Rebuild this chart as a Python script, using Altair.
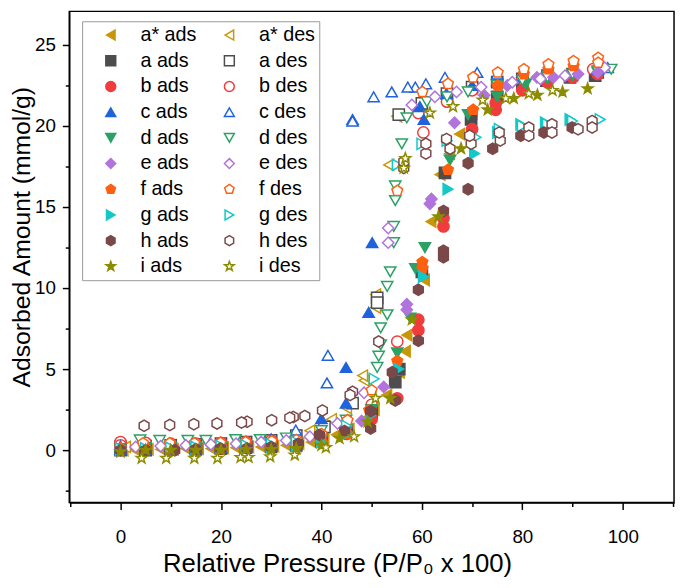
import altair as alt
import pandas as pd

samples = ["a*", "a", "b", "c", "d", "e", "f", "g", "h", "i"]
colors = ["#C8960A", "#4D4D4D", "#F03C3C", "#1F63DC", "#2BA166",
          "#B074DC", "#FF6010", "#14C8C8", "#7A4848", "#8C8C00"]
PENT = "M0,-1L0.951,-0.309L0.588,0.809L-0.588,0.809L-0.951,-0.309Z"
HEX = "M0,-1L0.866,-0.5L0.866,0.5L0,1L-0.866,0.5L-0.866,-0.5Z"
STAR = ("M0,-1L0.235,-0.324L0.951,-0.309L0.38,0.124L0.588,0.809L0,0.4"
        "L-0.588,0.809L-0.38,0.124L-0.951,-0.309L-0.235,-0.324Z")
shapes = ["triangle-left", "square", "circle", "triangle-up", "triangle-down",
          "diamond", PENT, "triangle-right", HEX, STAR]

astar_ads_x = [0.5, 3, 5.5, 8, 10.5, 13, 15.5, 18, 20.5, 23, 25.5, 28, 30.5, 33, 35.5, 38, 40.5, 43, 45.5, 48,
               50.5, 53, 55.5, 56.7, 57, 60.5, 61.8, 63.6, 65.5, 67.5, 70, 75, 80, 85, 90, 95]
astar_ads_y = [0.0, 0.0, 0.05, 0.05, 0.05, 0.1, 0.1, 0.1, 0.15, 0.15, 0.2, 0.2, 0.25, 0.3, 0.4, 0.5, 0.7, 0.95, 1.3, 1.8,
               2.5, 3.4, 4.8, 6.1, 7.1, 10.5, 14.1, 17.0, 18.3, 19.5, 20.8, 21.8, 22.4, 22.8, 23.1, 23.3]
astar_des_x = [95, 90, 85, 80, 75, 70, 65, 60, 55, 53.4, 50.8, 50.8, 48.5, 48.2, 45, 42, 37.7, 35, 30, 25, 20, 15, 10, 5, 1]
astar_des_y = [23.4, 23.2, 23.0, 22.8, 22.6, 22.3, 21.9, 21.3, 20.6, 17.6, 9.6, 8.8, 4.3, 4.6, 2.6, 1.9, 1.2, 0.9, 0.6,
               0.5, 0.4, 0.35, 0.3, 0.25, 0.2]
a_ads_x = [0, 5, 10, 15, 20, 25, 30, 35, 40, 45, 50, 54.7, 55.5, 60, 64.6, 69.8, 75, 80, 84.8, 89.5, 94.5]
a_ads_y = [0, 0, 0.05, 0.05, 0.1, 0.15, 0.2, 0.3, 0.55, 1.1, 2.3, 4.2, 5.0, 11.0, 17.1, 20.4, 21.8, 22.5, 22.8, 23.0, 23.1]
a_des_x = [95, 90, 85, 80, 75, 70, 65, 60, 55.4, 51.1, 51.1, 46.2, 40.6, 35, 30, 25, 20, 15, 10, 5, 0]
a_des_y = [23.3, 23.2, 23.1, 22.9, 22.7, 22.4, 22.0, 21.4, 20.7, 9.4, 9.1, 2.9, 1.44, 0.9, 0.6, 0.5, 0.4, 0.35, 0.3, 0.25, 0.2]
b_ads_x = [0, 5, 10, 15, 20, 25, 30, 35, 40, 45, 50, 55.1, 59.3, 59.3, 64.3, 64.3, 70, 74.7, 74.7, 80, 85, 90, 95]
b_ads_y = [0.05, 0.05, 0.05, 0.1, 0.1, 0.15, 0.2, 0.3, 0.5, 1.0, 1.9, 3.2, 7.4, 8.05, 13.8, 14.3, 19.8, 21.0, 21.4, 22.2,
           22.7, 23.0, 23.2]
b_des_x = [94.1, 90, 85, 80, 75, 70, 65, 60.3, 59.3, 55.1, 50, 45, 40, 35, 30, 25, 20, 15, 10, 5, 0, 0]
b_des_y = [23.5, 23.3, 23.1, 22.9, 22.6, 22.2, 21.5, 19.6, 20.8, 6.7, 2.8, 1.5, 0.9, 0.7, 0.6, 0.5, 0.45, 0.4, 0.4, 0.45,
           0.5, 0.3]
c_ads_x = [0, 5, 10, 15, 20, 25, 30, 35, 40, 44.9, 44.9, 49.4, 50.1, 59.6, 60.4, 64.9, 70, 75, 80, 85, 90, 95]
c_ads_y = [0.05, 0.05, 0.1, 0.1, 0.15, 0.2, 0.3, 0.6, 1.95, 2.9, 5.1, 8.5, 12.8, 21.2, 20.4, 22.0, 22.5, 22.8, 23.0, 23.2,
           23.3, 23.5]
c_des_x = [97, 95, 90, 85, 80, 75, 71, 64.6, 60.8, 58.7, 57.2, 54, 50.4, 46.2, 46.2, 41.3, 41.1, 34.9, 30, 25, 20, 15,
           10, 5, 0]
c_des_y = [23.6, 23.5, 23.4, 23.3, 23.3, 23.2, 23.3, 23.0, 22.6, 22.4, 22.4, 22.1, 21.8, 20.4, 20.3, 5.85, 4.15, 1.24,
           0.7, 0.55, 0.45, 0.4, 0.35, 0.3, 0.25]
d_ads_x = [0, 5, 10, 15, 20, 25, 30, 35, 40, 45, 50, 55.1, 57.7, 58.7, 60.6, 65.6, 69.2, 75, 80.7, 85, 90, 95]
d_ads_y = [0.1, 0.15, 0.15, 0.2, 0.2, 0.25, 0.3, 0.45, 0.7, 1.3, 2.5, 6.0, 8.15, 11.2, 12.5, 17.9, 20.7, 21.8, 22.6,
           22.9, 23.1, 23.3]
d_des_x = [97.7, 95, 90, 85, 80, 75, 69.2, 65, 61, 57, 56, 54.7, 54.7, 54.4, 54.4, 53.7, 53.1, 53.1, 51.8, 51.8, 51.4,
           51.1, 44.9, 40, 33, 27.8, 22.9, 17, 13.4, 7.8, 3.9]
d_des_y = [23.5, 23.4, 23.2, 23.0, 22.8, 22.5, 22.1, 21.8, 21.5, 20.5, 18.9, 16.3, 15.4, 13.8, 12.8, 11.0, 10.1, 8.35,
           7.55, 6.5, 5.8, 5.1, 1.85, 1.2, 0.75, 0.65, 0.65, 0.6, 0.6, 0.6, 0.63]
e_ads_x = [0, 5, 10, 15, 20, 25, 30, 35, 40, 45, 48, 52.4, 57, 57, 61.6, 61.9, 66.5, 72.4, 77, 82.9, 86.2, 91.1, 95]
e_ads_y = [0.1, 0.1, 0.1, 0.15, 0.15, 0.2, 0.25, 0.35, 0.55, 1.1, 1.8, 3.9, 8.66, 9.0, 15.2, 15.5, 20.2, 21.9, 22.5,
           23.0, 23.0, 23.2, 23.3]
e_des_x = [96.4, 88.5, 83.6, 78, 71.8, 66.9, 62.6, 58, 53.3, 53.3, 48.5, 43.2, 37.7, 33, 28, 23, 18, 13, 8, 3]
e_des_y = [23.6, 23.1, 22.9, 22.7, 22.4, 22.1, 21.8, 21.3, 13.7, 12.8, 3.54, 1.65, 0.83, 0.6, 0.5, 0.4, 0.35, 0.3, 0.25, 0.2]
f_ads_x = [0, 5, 10, 15, 20, 25, 30, 35, 40, 45, 49.5, 55.1, 60.1, 60.1, 65.2, 70.2, 75.1, 80.3, 85.2, 90.2]
f_ads_y = [0.05, 0.1, 0.1, 0.1, 0.15, 0.2, 0.25, 0.3, 0.5, 1.0, 2.46, 5.5, 11.2, 11.6, 17.3, 21.0, 22.5, 23.2, 23.5, 23.7]
f_des_x = [95.1, 95.1, 90.2, 85.2, 80.3, 75.1, 70.2, 65.2, 60.1, 55.1, 50, 45.2, 40, 35, 30.1, 24.9, 19.9, 14.7, 9.8, 4.5, 0]
f_des_y = [24.2, 23.9, 24.0, 23.8, 23.5, 23.3, 23.0, 22.6, 22.1, 16.0, 3.7, 1.85, 1.0, 0.63, 0.55, 0.5, 0.45, 0.43, 0.43,
           0.43, 0.1]
g_ads_x = [0, 5, 10, 15, 20, 25, 30, 35, 40, 45, 49.8, 55.4, 60.3, 65.2, 70.5, 75.1, 79.7, 84.6, 89.5]
g_ads_y = [0.05, 0.05, 0.1, 0.1, 0.1, 0.15, 0.2, 0.3, 0.5, 1.0, 2.15, 5.0, 10.7, 16.1, 18.3, 19.6, 20.1, 20.2, 20.4]
g_des_x = [95.5, 90, 85, 80, 75.4, 70.8, 65, 60, 55.1, 50.5, 45, 40, 35, 30, 25, 20, 15, 10, 5, 0]
g_des_y = [20.4, 20.3, 20.1, 20.0, 19.8, 19.3, 19.1, 18.9, 17.6, 4.4, 1.5, 0.9, 0.5, 0.35, 0.3, 0.25, 0.2, 0.15, 0.1, 0.1]
h_ads_x = [0, 5, 10.8, 15, 19.9, 25.2, 30, 35.4, 39.6, 44.6, 49.8, 49.8, 54.1, 54.7, 59.3, 59.3, 64.3, 64.3, 64.3, 69.2,
           69.2, 74.1, 79.7, 84.3, 89.9]
h_ads_y = [0.0, 0.0, 0.0, 0.05, 0.1, 0.1, 0.2, 0.4, 0.93, 1.18, 1.34, 2.4, 4.8, 3.07, 6.75, 9.9, 11.9, 12.3, 14.75, 16.1,
           17.7, 18.6, 19.4, 19.6, 19.9]
h_des_x = [93.9, 93.9, 91.1, 85.9, 85.9, 81.3, 81.3, 75.6, 75.4, 69.8, 69.5, 65.6, 64.9, 60.8, 60.8, 56.4, 56.4, 51.4,
           46.2, 45.7, 40.2, 36.7, 34.4, 33.7, 30.1, 25.2, 24.1, 19.2, 14.6, 9.8, 4.7]
h_des_y = [20.3, 19.9, 19.8, 20.1, 19.6, 19.9, 19.4, 19.1, 19.6, 18.9, 19.4, 18.6, 19.2, 18.3, 18.9, 17.4, 17.8, 6.7, 3.6,
           3.4, 2.45, 2.1, 2.05, 2.0, 1.85, 1.75, 1.7, 1.65, 1.6, 1.55, 1.5]
i_ads_x = [0, 5, 10, 15, 20, 25, 30, 35, 40, 43.6, 49.2, 53.7, 58, 63.3, 67.8, 73.1, 78.3, 83, 88, 93]
i_ads_y = [-0.1, 0.0, 0.0, 0.0, 0.0, 0.05, 0.05, 0.1, 0.3, 0.73, 1.75, 3.2, 8.05, 14.4, 18.6, 21.0, 21.7, 21.9, 22.1, 22.3]
i_des_x = [86, 81.3, 76.7, 72.1, 66.2, 61.6, 56.7, 56.4, 50.8, 46.5, 40.9, 34.7, 29.8, 25.5, 23.9, 19.3, 14.7, 9.1, 4.2]
i_des_y = [22.2, 22.0, 21.7, 21.6, 21.2, 20.8, 18.0, 17.4, 3.2, 0.83, 0.16, -0.3, -0.4, -0.45, -0.45, -0.5, -0.5, -0.5, -0.5]

series_data = [
    (astar_ads_x, astar_ads_y, astar_des_x, astar_des_y),
    (a_ads_x, a_ads_y, a_des_x, a_des_y),
    (b_ads_x, b_ads_y, b_des_x, b_des_y),
    (c_ads_x, c_ads_y, c_des_x, c_des_y),
    (d_ads_x, d_ads_y, d_des_x, d_des_y),
    (e_ads_x, e_ads_y, e_des_x, e_des_y),
    (f_ads_x, f_ads_y, f_des_x, f_des_y),
    (g_ads_x, g_ads_y, g_des_x, g_des_y),
    (h_ads_x, h_ads_y, h_des_x, h_des_y),
    (i_ads_x, i_ads_y, i_des_x, i_des_y),
]

rows = []
style = {}
for name, col, shp, (ax, ay, dx, dy) in zip(samples, colors, shapes, series_data):
    for kind, xs, ys, fill in (("ads", ax, ay, col), ("des", dx, dy, "white")):
        label = f"{name} {kind}"
        style[label] = (shp, col, fill)
        for xv, yv in zip(xs, ys):
            rows.append({"x": xv, "y": yv, "series": label})
df = pd.DataFrame(rows)
df["order"] = range(len(df))

# legend fills column by column: all "ads" entries first, then all "des"
domain = [f"{n} ads" for n in samples] + [f"{n} des" for n in samples]
shape_range = [style[d][0] for d in domain]
stroke_range = [style[d][1] for d in domain]
fill_range = [style[d][2] for d in domain]

FONT = "Liberation Sans, Arial, sans-serif"

legend = alt.Legend(
    orient="none", legendX=13, legendY=10, columns=2, title=None,
    labelFont=FONT, labelFontSize=20, labelColor="black",
    symbolSize=100, symbolStrokeWidth=1.5, symbolOffset=15, labelOffset=20,
    rowPadding=6, columnPadding=8, padding=4,
    strokeColor="#999999", fillColor="white", symbolLimit=0,
)

xaxis = alt.Axis(
    values=[-10, 0, 10, 20, 30, 40, 50, 60, 70, 80, 90, 100, 110],
    labelExpr="datum.value % 20 == 0 ? datum.label : ''",
    tickSize={"condition": {"test": "datum.value % 20 == 0", "value": 7}, "value": 4},
    title="Relative Pressure (P/P₀ x 100)", titleX=271, titleY=62, titleBaseline="middle",
    titleFontSize=26, labelPadding=18, grid=False,
)
yaxis = alt.Axis(
    values=[-2.5, 0, 2.5, 5, 7.5, 10, 12.5, 15, 17.5, 20, 22.5, 25],
    labelExpr="datum.value % 5 == 0 ? datum.label : ''",
    tickSize={"condition": {"test": "datum.value % 5 == 0", "value": 7}, "value": 4},
    title="Adsorbed Amount (mmol/g)", titleX=-48, titleY=228, titleAngle=-90,
    titleBaseline="middle", titleFontSize=25, labelPadding=7, grid=False,
)

chart = alt.Chart(df).mark_point(size=130, strokeWidth=1.5, opacity=1).encode(
    x=alt.X("x:Q", scale=alt.Scale(domain=[-10.2, 110.2], nice=False, zero=False), axis=xaxis),
    y=alt.Y("y:Q", scale=alt.Scale(domain=[-3.23, 27.07], nice=False, zero=False), axis=yaxis),
    shape=alt.Shape("series:N", scale=alt.Scale(domain=domain, range=shape_range), legend=legend),
    stroke=alt.Stroke("series:N", scale=alt.Scale(domain=domain, range=stroke_range), legend=legend),
    fill=alt.Fill("series:N", scale=alt.Scale(domain=domain, range=fill_range), legend=legend),
    order=alt.Order("order:Q"),
).properties(
    width=612, height=497,
    autosize=alt.AutoSizeParams(type="none"),
    padding={"left": 62, "top": 0, "right": 3, "bottom": 75},
).configure_view(
    stroke="black", strokeWidth=1.5
).configure_axis(
    domainColor="black", domainWidth=1.5, tickColor="black", tickWidth=1.5,
    labelFont=FONT, labelFontSize=19, labelColor="black",
    titleFont=FONT, titleFontWeight="normal", titleColor="black",
)

chart.save("out.html", embed_options={"renderer": "svg", "actions": False})
